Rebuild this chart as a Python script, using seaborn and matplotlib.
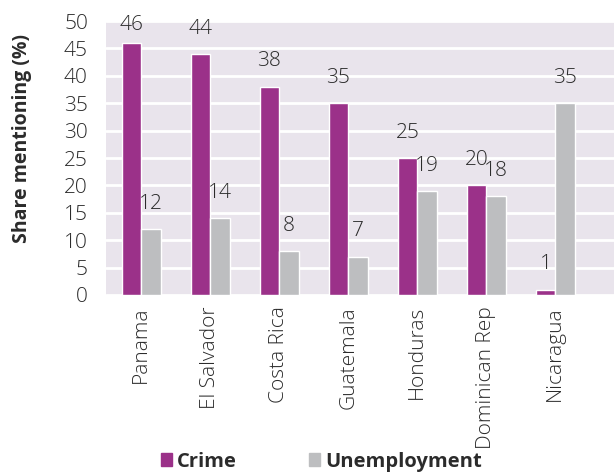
import pandas as pd
import seaborn as sns
import matplotlib.pyplot as plt
from matplotlib.patches import Patch

countries = ["Panama", "El Salvador", "Costa Rica", "Guatemala", "Honduras",
             "Dominican Rep", "Nicaragua"]
crime = [46, 44, 38, 35, 25, 20, 1]
unemployment = [12, 14, 8, 7, 19, 18, 35]

df = pd.DataFrame({
    "country": countries * 2,
    "share": crime + unemployment,
    "issue": ["Crime"] * len(countries) + ["Unemployment"] * len(countries),
})

colors = {"Crime": "#9b3189", "Unemployment": "#bdbec0"}
text_col = "#2b2b2b"

sns.set_style("white")
plt.rcParams["font.family"] = ["Open Sans", "DejaVu Sans"]

fig = plt.figure(figsize=(6.14, 4.72), dpi=100)
ax = fig.add_axes([0.1726, 0.375, 0.8274, 0.5805])
ax.set_facecolor("#e9e4ec")

sns.barplot(data=df, x="country", y="share", hue="issue", palette=colors,
            width=0.57, saturation=1, ax=ax, legend=False, zorder=3)

ymax = 50
# points per data unit on the y axis, labels are kept inside the plot area
pt_per_unit = 0.5805 * 4.72 * 72 / ymax
for c in ax.containers:
    for bar in c:
        v = bar.get_height()
        pad = min(11, (ymax - v) * pt_per_unit - 10)
        ax.annotate(f"{v:.0f}", (bar.get_x() + bar.get_width() / 2, v),
                    xytext=(0, pad), textcoords="offset points",
                    ha="center", va="bottom", fontsize=15,
                    fontweight="light", color=text_col)

ax.set_ylim(0, ymax)
ax.set_yticks(range(0, 51, 5))
ax.set_xlim(-0.51, 6.85)
ax.grid(axis="y", color="white", linewidth=2, zorder=0)
ax.set_axisbelow(True)
for s in ax.spines.values():
    s.set_visible(False)
ax.tick_params(axis="both", length=0, labelsize=15, colors=text_col)
ax.tick_params(axis="y", pad=13)
ax.tick_params(axis="x", pad=8)
for t in ax.get_xticklabels() + ax.get_yticklabels():
    t.set_fontweight("light")
plt.setp(ax.get_xticklabels(), rotation=90)
ax.set_xlabel("")
ax.set_ylabel("Share mentioning (%)", fontsize=14, fontweight="bold",
              color=text_col)
ax.yaxis.set_label_coords(-0.145, 0.57)

handles = [Patch(color=colors[k], label=k) for k in colors]
fig.legend(handles=handles, loc="center left", bbox_to_anchor=(0.232, 0.022),
           ncol=2, frameon=False, handlelength=0.55, handleheight=0.55,
           handletextpad=0.25, columnspacing=3.6, labelcolor=text_col,
           prop={"size": 14.5, "weight": "bold"})

fig.savefig("out.png", dpi=100)
